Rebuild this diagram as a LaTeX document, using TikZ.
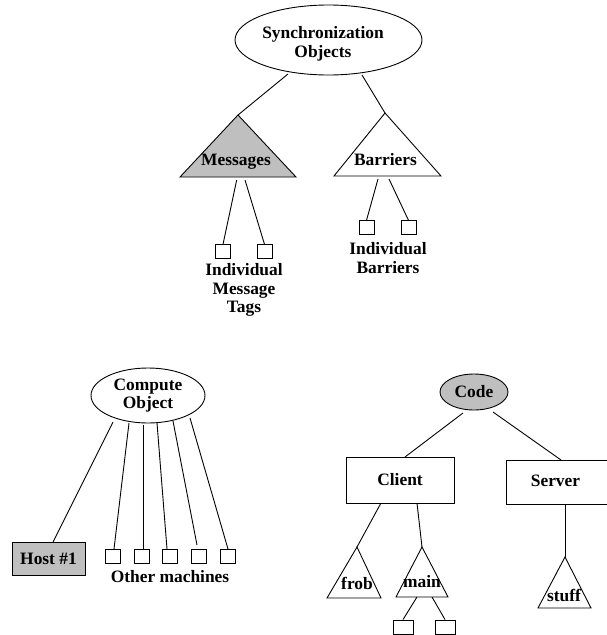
\documentclass[tikz,border=0pt]{standalone}
\usepackage{fontspec}
\setmainfont{Liberation Serif}
\usetikzlibrary{shapes.geometric}
\begin{document}
\begin{tikzpicture}[x=1pt,y=-1pt,line width=0.9pt,
  txt/.style={font=\fontsize{17.4}{18.6}\selectfont\bfseries, inner sep=0pt, align=center},
  oval/.style={ellipse, draw, inner sep=0pt, txt},
  minibox/.style={draw, minimum width=15pt, minimum height=13.5pt, inner sep=0pt},
  bigbox/.style={draw, inner sep=0pt, txt},
  shade/.style={fill=black!25}]
\useasboundingbox (0,0) rectangle (606,635);

% ---------- Synchronization objects ----------
\node[oval, minimum width=187pt, minimum height=70pt] (so) at (328.5,40) {};
\node[txt] (solabel) at (323,44) {Synchronization\\Objects};
\coordinate (soL) at (288,74);
\coordinate (soR) at (362,75);

\coordinate (msgT) at (238,115);
\coordinate (msgA) at (180,177);
\coordinate (msgB) at (296,177);
\draw[shade] (msgT) -- (msgA) -- (msgB) -- cycle;
\node[txt] (msg) at (236,162) {Messages};

\coordinate (barT) at (385,113);
\coordinate (barA) at (334,176);
\coordinate (barB) at (441,176);
\draw (barT) -- (barA) -- (barB) -- cycle;
\node[txt] (bar) at (385.5,160) {Barriers};

\draw (soL) -- (msgT);
\draw (soR) -- (barT);

\node[minibox] (mb1) at (223,251.5) {};
\node[minibox] (mb2) at (264.5,251.5) {};
\coordinate (msgC1) at (236.7,180);
\coordinate (msgC2) at (245,180);
\draw (msgC1) -- (mb1.north);
\draw (msgC2) -- (mb2.north);
\node[txt] (mtags) at (244,290) {Individual\\Message\\Tags};

\node[minibox] (bb1) at (366.5,227.5) {};
\node[minibox] (bb2) at (408.5,227.5) {};
\coordinate (barC1) at (378,179);
\coordinate (barC2) at (389,179);
\draw (barC1) -- (bb1.north);
\draw (barC2) -- (bb2.north);
\node[txt] (ibars) at (388,258) {Individual\\Barriers};

% ---------- Compute object ----------
\node[oval, minimum width=114pt, minimum height=55pt] (co) at (148,395.5) {Compute\\Object};
\node[bigbox, shade, minimum width=73pt, minimum height=33pt] (host) at (48.5,558.5) {Host \#1};
\coordinate (hostT) at (53,542);
\coordinate (co0) at (113,422);
\draw (co0) -- (hostT);

\foreach \i/\x in {1/112.5,2/141.5,3/169.5,4/198.5,5/227.5}{
  \node[minibox, minimum height=14pt] (m\i) at (\x,556) {};
}
\coordinate (co1) at (129,423);
\coordinate (co2) at (143,425);
\coordinate (co3) at (157,423);
\coordinate (co4) at (173,421);
\coordinate (co5) at (190,418);
\coordinate (m1T) at (114,549);
\coordinate (m2T) at (143,549);
\coordinate (m3T) at (167,549);
\coordinate (m4T) at (197,545);
\coordinate (m5T) at (228,549);
\draw (co1) -- (m1T);
\draw (co2) -- (m2T);
\draw (co3) -- (m3T);
\draw (co4) -- (m4T);
\draw (co5) -- (m5T);
\node[txt] (other) at (170,577) {Other machines};

% ---------- Code ----------
\node[oval, shade, minimum width=68pt, minimum height=36pt] (code) at (474,392) {Code};
\node[bigbox, minimum width=108pt, minimum height=46pt] (client) at (400,480) {Client};
\draw (506,460) rectangle (612,504);
\node[txt] (server) at (555.5,481) {Server};
\coordinate (codeL) at (463,413);
\coordinate (codeR) at (493,412);
\coordinate (clientT) at (405,457);
\coordinate (serverT) at (561,460);
\draw (codeL) -- (clientT);
\draw (codeR) -- (serverT);

\coordinate (frobT) at (357,547);
\draw (frobT) -- (327,598) -- (381,598) -- cycle;
\node[txt] (frob) at (357,583) {frob};
\coordinate (clientB1) at (381,503);
\draw (clientB1) -- (frobT);

\coordinate (mainT) at (422,547);
\draw (mainT) -- (396,597) -- (448,597) -- cycle;
\node[txt] (main) at (422,582) {main};
\coordinate (clientB2) at (417,503);
\draw (clientB2) -- (mainT);

\node[minibox, minimum width=20pt, minimum height=14pt] (mm1) at (403,627) {};
\node[minibox, minimum width=20pt, minimum height=14pt] (mm2) at (445,627) {};
\coordinate (mainC1) at (417,597);
\coordinate (mainC2) at (432,597);
\draw (mainC1) -- (mm1.north);
\draw (mainC2) -- (mm2.north);

\coordinate (stuffT) at (565,557);
\draw (stuffT) -- (538,608) -- (591,608) -- cycle;
\node[txt] (stuff) at (564,595) {stuff};
\coordinate (serverB) at (565,504);
\draw (serverB) -- (stuffT);
\end{tikzpicture}
\end{document}
